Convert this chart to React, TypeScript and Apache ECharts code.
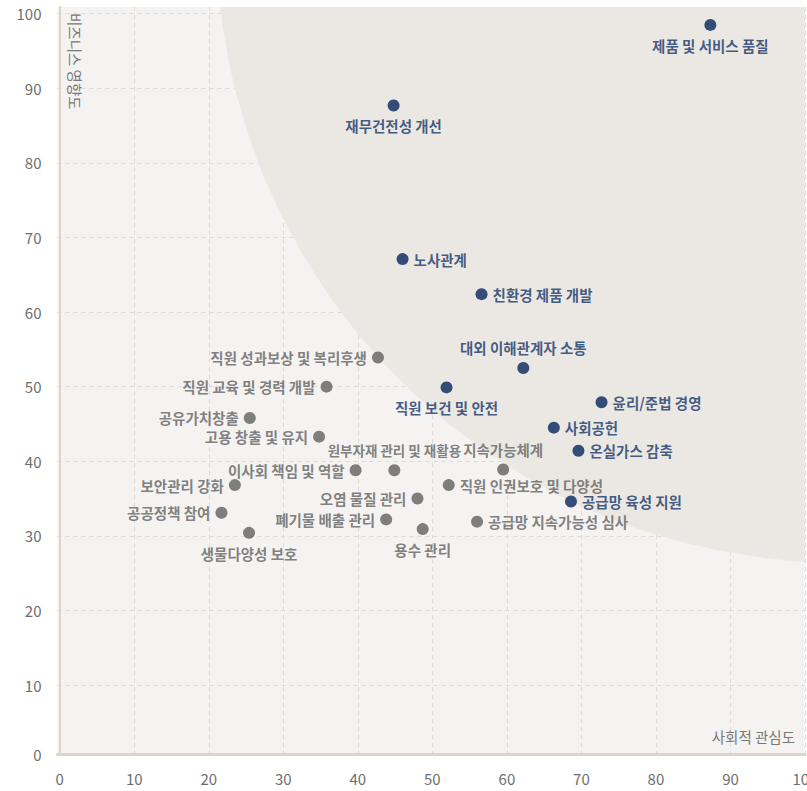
import React, { useEffect, useRef } from "react";
import * as echarts from "echarts";

// ---- data ----
const NAVY_NAMES = [
  "제품 및 서비스 품질",
  "재무건전성 개선",
  "노사관계",
  "친환경 제품 개발",
  "대외 이해관계자 소통",
  "직원 보건 및 안전",
  "윤리/준법 경영",
  "사회공헌",
  "온실가스 감축",
  "공급망 육성 지원",
];
const NAVY_X = [87.3, 44.8, 46.0, 56.6, 62.2, 51.9, 72.7, 66.3, 69.6, 68.6];
const NAVY_Y = [98.5, 87.7, 67.1, 62.4, 52.5, 49.9, 47.9, 44.5, 41.4, 34.6];

const GRAY_NAMES = [
  "직원 성과보상 및 복리후생",
  "직원 교육 및 경력 개발",
  "공유가치창출",
  "고용 창출 및 유지",
  "이사회 책임 및 역할",
  "원부자재 관리 및 재활용",
  "지속가능체계",
  "보안관리 강화",
  "공공정책 참여",
  "생물다양성 보호",
  "오염 물질 관리",
  "폐기물 배출 관리",
  "용수 관리",
  "직원 인권보호 및 다양성",
  "공급망 지속가능성 심사",
];
const GRAY_X = [42.7, 35.8, 25.5, 34.8, 39.7, 44.9, 59.5, 23.5, 21.7, 25.4, 48.0, 43.8, 48.7, 52.2, 56.0];
const GRAY_Y = [53.9, 50.0, 45.8, 43.3, 38.8, 38.8, 38.9, 36.8, 33.1, 30.4, 35.0, 32.2, 30.9, 36.8, 31.9];

// boundary of the shaded "material" zone (upper right)
const ZONE_X = [21.5, 22, 23, 24, 26, 28, 31, 34, 38, 42, 46, 50, 55, 60, 65, 70, 75, 80, 85, 90, 95, 100];
const ZONE_Y = [100.9, 97.5, 92.2, 88.2, 81.9, 76.8, 70.7, 65.5, 59.7, 54.8, 50.6, 46.9, 42.9, 39.5, 36.5, 34.0, 31.9, 30.2, 28.8, 27.8, 27.0, 26.5];

const X_TICKS = [0, 10, 20, 30, 40, 50, 60, 70, 80, 90, 100];
const Y_TICKS = [0, 10, 20, 30, 40, 50, 60, 70, 80, 90, 100];
const X_TITLE = "사회적 관심도";
const Y_TITLE = "비즈니스 영향도";

// label placement (style)
const LABEL_SIDE: Record<string, string> = {
  "제품 및 서비스 품질": "bottom",
  "재무건전성 개선": "bottom",
  "노사관계": "right",
  "친환경 제품 개발": "right",
  "대외 이해관계자 소통": "top",
  "직원 보건 및 안전": "bottom",
  "윤리/준법 경영": "right",
  "사회공헌": "right",
  "온실가스 감축": "right",
  "공급망 육성 지원": "right",
  "직원 성과보상 및 복리후생": "left",
  "직원 교육 및 경력 개발": "left",
  "공유가치창출": "left",
  "고용 창출 및 유지": "left",
  "이사회 책임 및 역할": "left",
  "원부자재 관리 및 재활용": "top",
  "지속가능체계": "top",
  "보안관리 강화": "left",
  "공공정책 참여": "left",
  "생물다양성 보호": "bottom",
  "오염 물질 관리": "left",
  "폐기물 배출 관리": "left",
  "용수 관리": "bottom",
  "직원 인권보호 및 다양성": "right",
  "공급망 지속가능성 심사": "right",
};
const COMPACT_LABELS = ["원부자재 관리 및 재활용"];

const FONT = '"Noto Sans CJK KR", "Noto Sans", sans-serif';
const X_MIN = -0.3;
const X_MAX = 100;
const Y_MIN = 0.75;
const Y_MAX = 100.9;

function items(names: string[], xs: number[], ys: number[]) {
  return names.map((n, i) => {
    const side = LABEL_SIDE[n] || "right";
    const vertical = side === "top" || side === "bottom";
    const label: any = { position: side, distance: vertical ? 7 : 5 };
    if (COMPACT_LABELS.indexOf(n) >= 0) label.fontSize = 13.5;
    return { name: n, value: [xs[i], ys[i]], label };
  });
}

export default function App() {
  const ref = useRef<HTMLDivElement>(null);
  useEffect(() => {
    if (!ref.current) return;
    const chart = echarts.init(ref.current, undefined, { renderer: "svg" });
    const yLabelValues = Y_TICKS.map((t) => (t === 0 ? Y_MIN : t));
    chart.setOption({
      animation: false,
      grid: {
        left: 57.5,
        right: 2,
        top: 7,
        bottom: 37,
        show: true,
        backgroundColor: "#f4f3f1",
        borderWidth: 0,
        containLabel: false,
        outerBoundsMode: "none",
      },
      xAxis: {
        type: "value",
        min: X_MIN,
        max: X_MAX,
        axisLine: { show: true, lineStyle: { color: "#dbd4ca", width: 3 } },
        axisTick: { show: false, customValues: X_TICKS.filter((v) => v > 0) },
        axisLabel: {
          customValues: X_TICKS,
          color: "#6e6e6e",
          fontSize: 15,
          fontFamily: FONT,
          margin: 17,
          formatter: (v: number) => String(Math.round(v)),
        },
        splitLine: { show: true, lineStyle: { color: "#dedad3", type: [4, 4], width: 1 } },
      },
      yAxis: {
        type: "value",
        min: Y_MIN,
        max: Y_MAX,
        axisLine: { show: true, lineStyle: { color: "#dbd4ca", width: 2 } },
        axisTick: { show: false, customValues: Y_TICKS.filter((v) => v > 0) },
        axisLabel: {
          customValues: yLabelValues,
          color: "#6e6e6e",
          fontSize: 15,
          fontFamily: FONT,
          margin: 16,
          formatter: (v: number) => (v === Y_MIN ? "0" : String(Math.round(v))),
        },
        splitLine: { show: true, lineStyle: { color: "#dedad3", type: [4, 4], width: 1 } },
      },
      graphic: [
        {
          type: "text",
          x: 75.5,
          y: 13,
          rotation: -Math.PI / 2,
          z: 10,
          style: {
            text: Y_TITLE,
            fill: "#787878",
            font: `14.5px ${FONT}`,
            align: "left",
            verticalAlign: "middle",
          },
        },
        {
          type: "text",
          x: 795,
          y: 736,
          z: 10,
          style: {
            text: X_TITLE,
            fill: "#787878",
            font: `14.5px ${FONT}`,
            align: "right",
            verticalAlign: "middle",
          },
        },
      ],
      series: [
        {
          type: "line",
          data: ZONE_X.map((x, i) => [x, ZONE_Y[i]]),
          smooth: true,
          symbol: "none",
          silent: true,
          z: 1,
          lineStyle: { width: 0, color: "#ebe8e3" },
          areaStyle: { color: "#ebe8e3", opacity: 1, origin: "end" },
        },
        {
          type: "scatter",
          z: 5,
          symbolSize: 12,
          itemStyle: { color: "#606060" },
          data: items(GRAY_NAMES, GRAY_X, GRAY_Y),
          label: {
            show: true,
            formatter: "{b}",
            color: "#626262",
            fontSize: 14.5,
            fontWeight: 600,
            fontFamily: FONT,
          },
        },
        {
          type: "scatter",
          z: 6,
          symbolSize: 12,
          itemStyle: { color: "#06255c" },
          data: items(NAVY_NAMES, NAVY_X, NAVY_Y),
          label: {
            show: true,
            formatter: "{b}",
            color: "#15366a",
            fontSize: 14.5,
            fontWeight: 700,
            fontFamily: FONT,
          },
        },
      ],
    });
    return () => chart.dispose();
  }, []);
  return <div ref={ref} style={{ width: 807, height: 791, position: "absolute", left: 0, top: 0 }} />;
}
